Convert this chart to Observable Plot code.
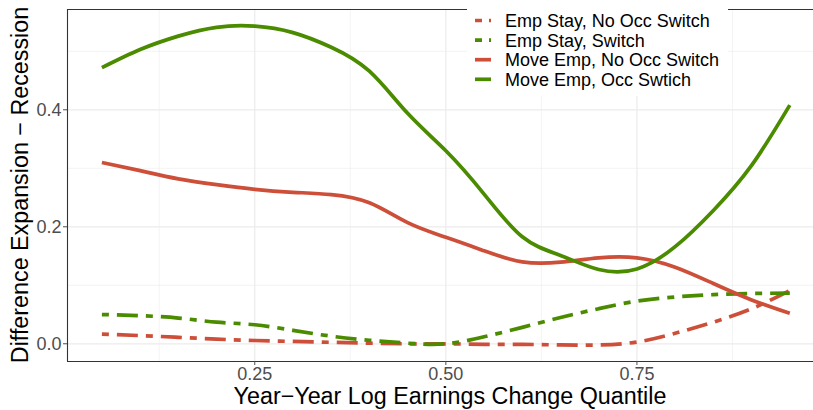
<!DOCTYPE html>
<html>
<head>
<meta charset="utf-8">
<script src="https://cdn.jsdelivr.net/npm/d3@7"></script>
<script src="https://cdn.jsdelivr.net/npm/@observablehq/plot@0.6"></script>
<style>
  html, body { margin: 0; padding: 0; background: #fff; overflow: hidden; }
  #chart { width: 813px; height: 410px; }
  svg { font-family: "Liberation Sans", Arial, sans-serif; }
</style>
</head>
<body>
<div id="chart"></div>
<script>
// ---- data ----
const quantiles = [0.05, 0.10, 0.15, 0.20, 0.25, 0.30, 0.35, 0.40, 0.45, 0.50, 0.55, 0.60, 0.65, 0.70, 0.75, 0.80, 0.85, 0.90, 0.95];
const empStayNoSwitch = [0.0164, 0.014, 0.011, 0.008, 0.0056, 0.004, 0.0025, 0.001, 0.0, 0.0, -0.001, -0.001, -0.002, -0.002, 0.003, 0.018, 0.037, 0.060, 0.091];
const empStaySwitch   = [0.050, 0.048, 0.044, 0.037, 0.0325, 0.023, 0.013, 0.006, 0.001, 0.0, 0.012, 0.028, 0.045, 0.060, 0.073, 0.080, 0.084, 0.086, 0.0865];
const moveNoSwitch    = [0.310, 0.296, 0.282, 0.272, 0.264, 0.259, 0.255, 0.241, 0.207, 0.182, 0.159, 0.140, 0.1395, 0.147, 0.147, 0.131, 0.103, 0.075, 0.052];
const moveSwitch      = [0.472, 0.503, 0.526, 0.541, 0.543, 0.532, 0.507, 0.466, 0.394, 0.330, 0.256, 0.183, 0.151, 0.127, 0.128, 0.166, 0.228, 0.305, 0.408];

const seriesNames = ["Emp Stay, No Occ Switch", "Emp Stay, Switch", "Move Emp, No Occ Switch", "Move Emp, Occ Swtich"];
const seriesValues = [empStayNoSwitch, empStaySwitch, moveNoSwitch, moveSwitch];
const xTicks = [0.25, 0.50, 0.75];
const yTicks = [0.0, 0.2, 0.4];
const xMinor = [0.125, 0.375, 0.625, 0.875];
const yMinor = [0.1, 0.3, 0.5];
const xTitle = "Year\u2212Year Log Earnings Change Quantile";
const yTitle = "Difference Expansion \u2212 Recession";

// ---- styles ----
const RED = "#CD4F39", GREEN = "#4A8B00";
const colors = [RED, GREEN, RED, GREEN];
const dashes = ["7 8 21 8", "7 8 21 8", null, null];

const xDomain = [0.005, 0.981];
const yDomain = [-0.0303, 0.5715];

const rows = [];
seriesNames.forEach((name, i) => {
  quantiles.forEach((q, j) => rows.push({series: name, q, v: seriesValues[i][j]}));
});

const lineMarks = seriesNames.map((name, i) =>
  Plot.line(rows.filter(d => d.series === name), {
    x: "q", y: "v", curve: "natural",
    stroke: colors[i], strokeWidth: 3.7,
    strokeDasharray: dashes[i] || undefined,
    strokeLinecap: "butt", strokeLinejoin: "round"
  })
);

const chart = Plot.plot({
  width: 813, height: 410,
  marginLeft: 67, marginRight: 0, marginTop: 9, marginBottom: 49,
  style: {fontFamily: "'Liberation Sans', Arial, sans-serif", background: "#fff"},
  x: {domain: xDomain},
  y: {domain: yDomain},
  marks: [
    Plot.gridX(xMinor, {stroke: "#ebebeb", strokeOpacity: 1, strokeWidth: 0.6}),
    Plot.gridY(yMinor, {stroke: "#ebebeb", strokeOpacity: 1, strokeWidth: 0.6}),
    Plot.gridX(xTicks, {stroke: "#ebebeb", strokeOpacity: 1, strokeWidth: 1.2}),
    Plot.gridY(yTicks, {stroke: "#ebebeb", strokeOpacity: 1, strokeWidth: 1.2}),
    ...lineMarks,
    Plot.ruleY([yDomain[0], yDomain[1]], {stroke: "#333333", strokeWidth: 1.1}),
    Plot.ruleX([xDomain[0]], {stroke: "#333333", strokeWidth: 1.1}),
    Plot.axisX(xTicks, {tickFormat: d3.format(".2f"), tickSize: 4, tickPadding: 2, fontSize: 18, color: "#4d4d4d", label: null}),
    Plot.axisY(yTicks, {tickFormat: d3.format(".1f"), tickSize: 4, tickPadding: 2, fontSize: 18, color: "#4d4d4d", label: null})
  ]
});

document.getElementById("chart").appendChild(chart);

// ---- titles and legend ----
const svg = d3.select(chart);
svg.append("text")
  .attr("x", 450).attr("y", 404)
  .attr("text-anchor", "middle").attr("font-size", 23.3).attr("fill", "#000")
  .text(xTitle);
svg.append("text")
  .attr("transform", "translate(28,185) rotate(-90)")
  .attr("text-anchor", "middle").attr("font-size", 23.3).attr("fill", "#000")
  .text(yTitle);

const lg = svg.append("g").attr("text-anchor", "start");
lg.append("rect").attr("x", 467).attr("y", 1).attr("width", 261).attr("height", 95).attr("fill", "#fff");
seriesNames.forEach((name, i) => {
  const cy = 20.5 + i * 19.6;
  lg.append("line").attr("x1", 475).attr("x2", 491).attr("y1", cy).attr("y2", cy)
    .attr("stroke", colors[i]).attr("stroke-width", 3.7)
    .attr("stroke-dasharray", dashes[i] ? "7 7 21 7" : null);
  lg.append("text").attr("x", 505).attr("y", cy).attr("dy", "0.36em")
    .attr("text-anchor", "start")
    .attr("font-size", 18).attr("fill", "#000").text(name);
});
</script>
</body>
</html>
